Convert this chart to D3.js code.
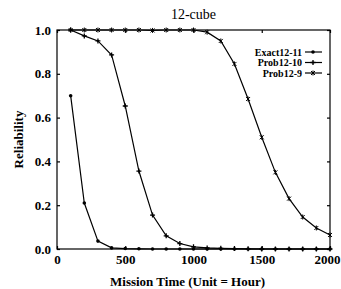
<!DOCTYPE html>
<html>
<head>
<meta charset="utf-8">
<script src="https://d3js.org/d3.v7.min.js"></script>
<style>
  body { margin: 0; background: #fff; }
  text { font-family: "Liberation Serif", "DejaVu Serif", serif; }
</style>
</head>
<body>
<div id="chart"></div>
<script>
// data
var times = [100, 200, 300, 400, 500, 600, 700, 800, 900, 1000,
             1100, 1200, 1300, 1400, 1500, 1600, 1700, 1800, 1900, 2000];
var exact12_11 = [0.70, 0.21, 0.036, 0.005, 0.002, 0.001, 0, 0, 0, 0,
                  0, 0, 0, 0, 0, 0, 0, 0, 0, 0];
var prob12_10 = [1.0, 0.973, 0.95, 0.886, 0.653, 0.356, 0.155, 0.06, 0.025, 0.01,
                 0.005, 0.003, 0.002, 0.001, 0, 0, 0, 0, 0, 0];
var prob12_9 = [1.0, 1.0, 1.0, 1.0, 1.0, 1.0, 0.998, 1.0, 1.0, 1.0,
                0.99, 0.95, 0.845, 0.685, 0.51, 0.35, 0.23, 0.146, 0.096, 0.064];
var seriesNames = ["Exact12-11", "Prob12-10", "Prob12-9"];
var xTicks = [0, 500, 1000, 1500, 2000];
var yTicks = [0, 0.2, 0.4, 0.6, 0.8, 1.0];

var W = 341, H = 289;
var margin = {top: 30, right: 11, bottom: 40, left: 57},
    width = W - margin.left - margin.right,
    height = H - margin.top - margin.bottom;

var svg = d3.select("#chart").append("svg")
    .attr("width", W).attr("height", H);
var g = svg.append("g")
    .attr("transform", "translate(" + margin.left + "," + margin.top + ")");

var x = d3.scaleLinear().domain([0, 2000]).range([0, width]);
var y = d3.scaleLinear().domain([0, 1]).range([height, 0]);

// frame
g.append("rect")
    .attr("width", width).attr("height", height)
    .attr("fill", "none").attr("stroke", "#000").attr("stroke-width", 1.2);

// axes, inward ticks on all four sides
var axBottom = g.append("g").attr("transform", "translate(0," + height + ")")
    .call(d3.axisBottom(x).tickValues(xTicks).tickSize(-3).tickPadding(6).tickFormat(d3.format("d")));
var axTop = g.append("g")
    .call(d3.axisTop(x).tickValues(xTicks).tickSize(-3).tickFormat(""));
var axLeft = g.append("g")
    .call(d3.axisLeft(y).tickValues(yTicks).tickSize(-3).tickPadding(6).tickFormat(d3.format(".1f")));
var axRight = g.append("g").attr("transform", "translate(" + width + ",0)")
    .call(d3.axisRight(y).tickValues(yTicks).tickSize(-3).tickFormat(""));
[axBottom, axTop, axLeft, axRight].forEach(function(a) {
  a.select(".domain").remove();
  a.selectAll("line").attr("stroke", "#000").attr("stroke-width", 1.2);
  a.selectAll("text")
    .style("font-family", "'Liberation Serif', serif")
    .style("font-size", "13px").style("font-weight", "bold").attr("fill", "#000");
});
// last x label sits flush against the right edge
axBottom.selectAll(".tick").filter(function(d) { return d == 2000; })
    .select("text").attr("dx", -3);

// marker shapes
function marker(sel, kind, cx, cy) {
  if (kind == 0) {
    sel.append("circle").attr("cx", cx).attr("cy", cy).attr("r", 1.8).attr("fill", "#000");
  } else if (kind == 1) {
    sel.append("path")
      .attr("d", "M" + (cx - 2.5) + "," + cy + "h5M" + cx + "," + (cy - 2.5) + "v5")
      .attr("stroke", "#000").attr("stroke-width", 1.3);
    sel.append("circle").attr("cx", cx).attr("cy", cy).attr("r", 1).attr("fill", "#000");
  } else {
    sel.append("path")
      .attr("d", "M" + (cx - 2) + "," + (cy - 2) + "l4,4M" + (cx - 2) + "," + (cy + 2) + "l4,-4M" + cx + "," + (cy - 2.5) + "v5")
      .attr("stroke", "#000").attr("stroke-width", 1);
  }
}

var allSeries = [exact12_11, prob12_10, prob12_9];
var line = d3.line()
    .x(function(d) { return x(d[0]); })
    .y(function(d) { return y(d[1]); });

allSeries.forEach(function(vals, k) {
  var pts = times.map(function(t, i) { return [t, vals[i]]; });
  g.append("path").datum(pts)
    .attr("d", line)
    .attr("fill", "none").attr("stroke", "#000").attr("stroke-width", 1.2);
  pts.forEach(function(p) { marker(g, k, x(p[0]), y(p[1])); });
});

// legend
var legend = g.append("g");
seriesNames.forEach(function(name, k) {
  var ly = 22 + k * 10.5;
  legend.append("text")
    .attr("x", 245).attr("y", ly + 3.5)
    .attr("text-anchor", "end")
    .style("font-size", "10px").style("font-weight", "bold")
    .text(name);
  legend.append("line")
    .attr("x1", 248).attr("x2", 265).attr("y1", ly).attr("y2", ly)
    .attr("stroke", "#000").attr("stroke-width", 1.2);
  marker(legend, k, 256, ly);
});

// title
svg.append("text")
    .attr("x", margin.left + width / 2).attr("y", 19)
    .attr("text-anchor", "middle")
    .style("font-size", "14px")
    .text("12-cube");

// axis titles
svg.append("text")
    .attr("x", margin.left + width / 2 - 6).attr("y", 286)
    .attr("text-anchor", "middle")
    .style("font-size", "13px").style("font-weight", "bold")
    .text("Mission Time (Unit = Hour)");

svg.append("text")
    .attr("transform", "translate(23," + (margin.top + height / 2) + ") rotate(-90)")
    .attr("text-anchor", "middle")
    .style("font-size", "13px").style("font-weight", "bold")
    .text("Reliability");
</script>
</body>
</html>
